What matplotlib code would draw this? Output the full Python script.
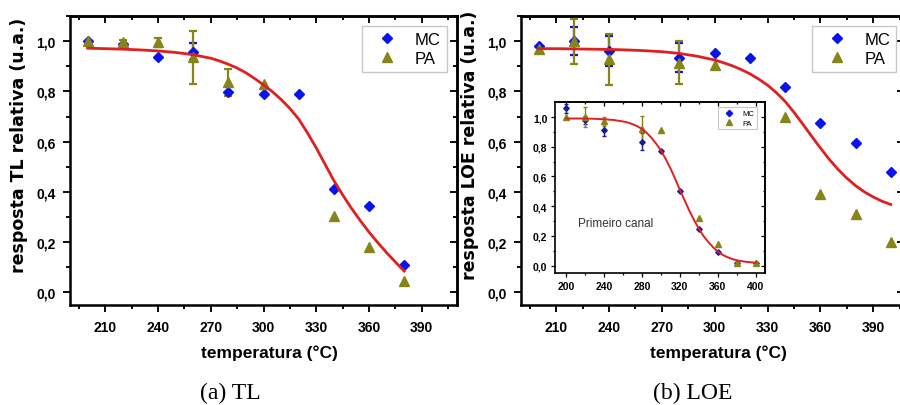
import numpy as np
import matplotlib
matplotlib.use('Agg')
import matplotlib.pyplot as plt
from matplotlib.ticker import MultipleLocator, FuncFormatter
from matplotlib.lines import Line2D

plt.rcParams['font.family'] = ['Liberation Sans', 'DejaVu Sans']

# cores
AZUL = '#0a14e8'
OLIVA = '#85851a'
VERMELHO = '#e02020'

# (a) TL
tl_temp = [200, 220, 240, 260, 280, 300, 320, 340, 360, 380]
tl_mc = [1.0, 0.99, 0.935, 0.958, 0.796, 0.788, 0.79, 0.41, 0.345, 0.11]
tl_mc_err = [0, 0, 0, 0.035, 0, 0, 0, 0, 0, 0]
tl_pa_temp = [200, 220, 240, 260, 280, 300, 340, 360, 380]
tl_pa = [1.0, 0.995, 0.995, 0.935, 0.836, 0.828, 0.305, 0.18, 0.047]
tl_pa_err = [0, 0.01, 0.018, 0.105, 0.055, 0, 0, 0, 0]
tl_fit_temp = [200, 210, 220, 230, 240, 250, 260, 270, 275, 280, 285, 290, 295,
               300, 305, 310, 315, 320, 325, 330, 335, 340, 345, 350, 355,
               360, 365, 370, 375, 380]
tl_fit = [0.972, 0.970, 0.968, 0.965, 0.961, 0.955, 0.946, 0.932, 0.921, 0.908, 0.893,
          0.874, 0.851, 0.826, 0.799, 0.768, 0.732, 0.690, 0.635, 0.575, 0.510, 0.445,
          0.388, 0.335, 0.286, 0.240, 0.198, 0.158, 0.121, 0.085]

# (b) LOE
loe_temp = [200, 220, 240, 280, 300, 320, 340, 360, 380, 400]
loe_mc = [0.98, 1.0, 0.96, 0.934, 0.954, 0.934, 0.817, 0.673, 0.593, 0.481]
loe_mc_err = [0, 0.055, 0.06, 0.057, 0, 0, 0, 0, 0, 0]
loe_pa_temp = [200, 220, 240, 280, 300, 340, 360, 380, 400]
loe_pa = [0.97, 1.0, 0.927, 0.914, 0.907, 0.698, 0.393, 0.311, 0.199]
loe_pa_err = [0, 0.09, 0.1, 0.085, 0, 0, 0, 0, 0]
loe_fit_temp = [200, 210, 220, 230, 240, 250, 260, 270, 280, 290, 300, 305,
                310, 315, 320, 325, 330, 335, 340, 345, 350, 355, 360, 365,
                370, 375, 380, 385, 390, 395, 400]
loe_fit = [0.970, 0.970, 0.969, 0.968, 0.967, 0.965, 0.962, 0.958, 0.951, 0.940, 0.925,
           0.914, 0.902, 0.887, 0.870, 0.849, 0.825, 0.795, 0.760, 0.717, 0.670, 0.622,
           0.575, 0.530, 0.490, 0.455, 0.425, 0.400, 0.380, 0.363, 0.350]

# inset: primeiro canal
pc_temp = [200, 220, 240, 280, 300, 320, 340, 360, 380, 400]
pc_mc = [1.06, 0.98, 0.91, 0.835, 0.773, 0.504, 0.247, 0.09, 0.018, 0.018]
pc_mc_err = [0.03, 0.03, 0.04, 0.055, 0, 0, 0, 0, 0, 0]
pc_pa_temp = [200, 220, 240, 280, 300, 340, 360, 380, 400]
pc_pa = [1.0, 1.0, 0.97, 0.92, 0.915, 0.32, 0.146, 0.02, 0.02]
pc_pa_err = [0, 0.07, 0.03, 0.085, 0, 0, 0, 0, 0]
pc_fit_temp = [200, 210, 220, 230, 240, 250, 260, 265, 270, 275, 280, 285, 290,
               295, 300, 305, 310, 315, 320, 325, 330, 335, 340, 345, 350, 355,
               360, 365, 370, 375, 380, 385, 390, 395, 400]
pc_fit = [0.990, 0.990, 0.990, 0.988, 0.985, 0.980, 0.970, 0.963, 0.952, 0.938, 0.920,
          0.893, 0.860, 0.820, 0.775, 0.718, 0.655, 0.585, 0.510, 0.440, 0.370, 0.307,
          0.250, 0.200, 0.160, 0.125, 0.095, 0.074, 0.058, 0.046, 0.037, 0.031, 0.026,
          0.023, 0.020]

virgula = FuncFormatter(lambda v, p: ('%.1f' % v).replace('.', ','))


def barras(ax, x, y, err, cor, lw, cap):
    x = np.array(x)
    y = np.array(y)
    err = np.array(err)
    m = err > 0
    ax.errorbar(x[m], y[m], yerr=err[m], fmt='none', ecolor=cor,
                elinewidth=lw, capsize=cap, capthick=lw, zorder=2)


def eixos(ax, xmaj, xmin, ymaj, ymin, lw, tl, fs, pad):
    ax.xaxis.set_major_locator(MultipleLocator(xmaj))
    ax.xaxis.set_minor_locator(MultipleLocator(xmin))
    ax.yaxis.set_major_locator(MultipleLocator(ymaj))
    ax.yaxis.set_minor_locator(MultipleLocator(ymin))
    ax.yaxis.set_major_formatter(virgula)
    for s in ax.spines.values():
        s.set_linewidth(lw)
    ax.tick_params(which='both', direction='out', width=lw * 0.75,
                   labelsize=fs, pad=pad)
    ax.tick_params(which='major', length=tl)
    ax.tick_params(which='minor', length=tl * 0.55)
    for lab in ax.get_xticklabels() + ax.get_yticklabels():
        lab.set_fontweight('bold')
    # ticks para dentro no topo e na direita
    top = ax.secondary_xaxis('top')
    top.xaxis.set_major_locator(MultipleLocator(xmaj))
    top.xaxis.set_minor_locator(MultipleLocator(xmin))
    top.tick_params(which='both', direction='in', width=lw * 0.75, labeltop=False)
    top.tick_params(which='major', length=tl)
    top.tick_params(which='minor', length=tl * 0.55)
    top.spines['top'].set_linewidth(lw)
    dir_ = ax.secondary_yaxis('right')
    dir_.yaxis.set_major_locator(MultipleLocator(ymaj))
    dir_.yaxis.set_minor_locator(MultipleLocator(ymin))
    dir_.tick_params(which='both', direction='in', width=lw * 0.75, labelright=False)
    dir_.tick_params(which='major', length=tl)
    dir_.tick_params(which='minor', length=tl * 0.55)
    dir_.spines['right'].set_linewidth(lw)


def legenda(ax, ms_d, ms_t, fs, anchor, lw):
    h = [Line2D([], [], ls='none', marker='D', ms=ms_d, color=AZUL),
         Line2D([], [], ls='none', marker='^', ms=ms_t, color=OLIVA)]
    leg = ax.legend(h, ['MC', 'PA'], loc='upper right', bbox_to_anchor=anchor,
                    borderaxespad=0, fontsize=fs, fancybox=False, framealpha=1,
                    edgecolor='#c8c8c8', handlelength=2.3, handletextpad=0.5,
                    labelspacing=0.25, borderpad=0.35)
    leg.get_frame().set_linewidth(lw)


def painel(ax, t_mc, mc, mc_err, t_pa, pa, pa_err, t_fit, fit, ylabel, xmax, leg_x):
    barras(ax, t_mc, mc, mc_err, AZUL, 1.6, 3)
    barras(ax, t_pa, pa, pa_err, OLIVA, 1.6, 3)
    ax.plot(t_mc, mc, ls='none', marker='D', ms=5, color=AZUL, zorder=3)
    ax.plot(t_pa, pa, ls='none', marker='^', ms=7, color=OLIVA, zorder=4)
    ax.plot(t_fit, fit, color=VERMELHO, lw=2, zorder=5)
    ax.set_xlim(190, xmax)
    ax.set_ylim(-0.05, 1.1)
    eixos(ax, 30, 15, 0.2, 0.1, 1.8, 5, 10, 5.5)
    ax.set_xlabel('temperatura (°C)', fontsize=12.5, fontweight='bold')
    ax.set_ylabel(ylabel, fontsize=12.5, fontweight='bold', family='DejaVu Sans')
    ax.xaxis.set_label_coords(0.515, -0.135)
    ax.yaxis.set_label_coords(-0.109, 0.557)
    legenda(ax, 5, 7, 12, (leg_x, 0.966), 1.0)


fig = plt.figure(figsize=(9, 4.06), dpi=100)

ax1 = fig.add_axes([70 / 900, 100 / 406, 387 / 900, 289 / 406])
painel(ax1, tl_temp, tl_mc, tl_mc_err, tl_pa_temp, tl_pa, tl_pa_err,
       tl_fit_temp, tl_fit, 'resposta TL relativa (u.a.)', 410, 0.973)

ax2 = fig.add_axes([521 / 900, 100 / 406, 383 / 900, 289 / 406])
painel(ax2, loe_temp, loe_mc, loe_mc_err, loe_pa_temp, loe_pa, loe_pa_err,
       loe_fit_temp, loe_fit, 'resposta LOE relativa (u.a.)', 407.5, 0.98)

# inset
ax3 = fig.add_axes([555 / 900, 131.7 / 406, 210 / 900, 171 / 406])
barras(ax3, pc_temp, pc_mc, pc_mc_err, '#1a1a9a', 1.0, 1.5)
barras(ax3, pc_pa_temp, pc_pa, pc_pa_err, OLIVA, 1.0, 1.5)
ax3.plot(pc_temp, pc_mc, ls='none', marker='D', ms=2.8, color='#1a1aa0', zorder=3)
ax3.plot(pc_pa_temp, pc_pa, ls='none', marker='^', ms=3.8, color=OLIVA, zorder=4)
ax3.plot(pc_fit_temp, pc_fit, color=VERMELHO, lw=1.4, zorder=5)
ax3.set_xlim(188, 410)
ax3.set_ylim(-0.051, 1.099)
eixos(ax3, 40, 20, 0.2, 0.1, 1.2, 3, 7.5, 2.5)
ax3.text(0.29, 0.294, 'Primeiro canal', transform=ax3.transAxes,
         fontsize=8.5, color='#333333', ha='center', va='center')
legenda(ax3, 3.2, 4.5, 5.5, (0.96, 0.97), 0.8)

fig.text(230 / 900, 0.032, '(a) TL', family='Liberation Serif', fontsize=17,
         ha='center', va='center')
fig.text(693 / 900, 0.032, '(b) LOE', family='Liberation Serif', fontsize=17,
         ha='center', va='center')

fig.savefig('out.png', dpi=100)
